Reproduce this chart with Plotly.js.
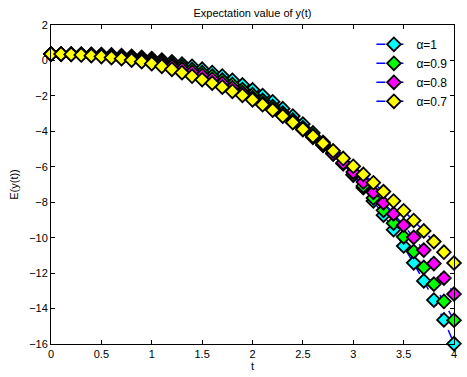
<!DOCTYPE html>
<html>
<head>
<meta charset="utf-8">
<script src="https://cdn.plot.ly/plotly-3.0.1.min.js"></script>
<style>
  html, body { margin: 0; padding: 0; background: #fff; }
  #chart { width: 467px; height: 377px; }
</style>
</head>
<body>
<div id="chart"></div>
<script>
// time grid (t)
const tValues = [0, 0.1, 0.2, 0.3, 0.4, 0.5, 0.6, 0.7, 0.8, 0.9,
    1.0, 1.1, 1.2, 1.3, 1.4, 1.5, 1.6, 1.7, 1.8, 1.9,
    2.0, 2.1, 2.2, 2.3, 2.4, 2.5, 2.6, 2.7, 2.8, 2.9,
    3.0, 3.1, 3.2, 3.3, 3.4, 3.5, 3.6, 3.7, 3.8, 3.9, 4.0];

// E(y(t)) for each alpha
const alpha1 = [0.36, 0.36, 0.36, 0.35, 0.34, 0.33, 0.31, 0.27, 0.23, 0.18,
    0.11, 0.02, -0.08, -0.20, -0.33, -0.49, -0.68, -0.88, -1.12, -1.38,
    -1.66, -1.98, -2.33, -2.72, -3.14, -3.59, -4.09, -4.62, -5.19, -5.81,
    -6.47, -7.18, -7.93, -8.73, -9.55, -10.47, -11.42, -12.44, -13.52, -14.64, -15.98];
const alpha09 = [0.36, 0.36, 0.36, 0.35, 0.33, 0.31, 0.27, 0.23, 0.17, 0.10,
    0.01, -0.09, -0.21, -0.35, -0.51, -0.69, -0.89, -1.11, -1.36, -1.64,
    -1.93, -2.25, -2.60, -2.97, -3.37, -3.80, -4.26, -4.75, -5.27, -5.83,
    -6.44, -7.08, -7.76, -8.46, -9.18, -9.95, -10.78, -11.68, -12.62, -13.60, -14.66];
const alpha08 = [0.36, 0.36, 0.35, 0.34, 0.31, 0.28, 0.23, 0.17, 0.10, 0.02,
    -0.09, -0.20, -0.34, -0.49, -0.66, -0.85, -1.06, -1.29, -1.54, -1.81,
    -2.10, -2.42, -2.75, -3.11, -3.50, -3.91, -4.34, -4.79, -5.27, -5.77,
    -6.30, -6.86, -7.44, -8.04, -8.66, -9.30, -9.98, -10.70, -11.46, -12.28, -13.18];
const alpha07 = [0.36, 0.36, 0.34, 0.31, 0.27, 0.22, 0.16, 0.10, 0.02, -0.07,
    -0.18, -0.33, -0.50, -0.69, -0.89, -1.08, -1.28, -1.50, -1.74, -1.97,
    -2.22, -2.50, -2.80, -3.14, -3.50, -3.88, -4.27, -4.68, -5.10, -5.53,
    -5.97, -6.43, -6.90, -7.40, -7.93, -8.48, -9.03, -9.62, -10.22, -10.82, -11.43];

const seriesNames = ["α=1", "α=0.9", "α=0.8", "α=0.7"];
const seriesData = [alpha1, alpha09, alpha08, alpha07];
const markerColors = ["#00ffff", "#00ff00", "#ff00ff", "#ffff00"];

const font = "Liberation Sans, Arial, Helvetica, sans-serif";

const traces = seriesData.map((ys, i) => ({
    x: tValues,
    y: ys,
    type: "scatter",
    mode: "lines+markers",
    name: seriesNames[i],
    cliponaxis: false,
    line: { color: "#0000ff", width: 1.5, dash: "dash" },
    marker: {
        symbol: "diamond",
        size: 10.5,
        color: markerColors[i],
        line: { color: "#000000", width: 1.8 },
    },
}));

const axisCommon = {
    showgrid: false,
    zeroline: false,
    showline: true,
    linecolor: "#000",
    linewidth: 1,
    mirror: "ticks",
    ticks: "inside",
    ticklen: 4,
    tickcolor: "#000",
    tickfont: { family: font, size: 11, color: "#000" },
};

const layout = {
    width: 467,
    height: 377,
    paper_bgcolor: "#fff",
    plot_bgcolor: "#fff",
    margin: { l: 51, r: 13, t: 25, b: 33 },
    title: {
        text: "Expectation value of y(t)",
        font: { family: font, size: 11, color: "#000" },
        xref: "paper",
        x: 0.5,
        xanchor: "center",
        yref: "container",
        y: 0.966,
        yanchor: "middle",
    },
    xaxis: {
        ...axisCommon,
        range: [0, 4],
        tickvals: [0, 0.5, 1, 1.5, 2, 2.5, 3, 3.5, 4],
        ticktext: ["0", "0.5", "1", "1.5", "2", "2.5", "3", "3.5", "4"],
        title: { text: "t", font: { family: font, size: 11, color: "#000" }, standoff: 1 },
    },
    yaxis: {
        ...axisCommon,
        range: [-16, 2],
        tickvals: [2, 0, -2, -4, -6, -8, -10, -12, -14, -16],
        title: { text: "E(y(t))", font: { family: font, size: 11, color: "#000" }, standoff: 8 },
    },
    showlegend: true,
    legend: {
        x: 0.795,
        xanchor: "left",
        y: 0.985,
        yanchor: "top",
        bgcolor: "rgba(0,0,0,0)",
        borderwidth: 0,
        itemwidth: 35,
        font: { family: font, size: 12, color: "#000" },
    },
};

Plotly.newPlot("chart", traces, layout, { displayModeBar: false, staticPlot: true });
</script>
</body>
</html>
